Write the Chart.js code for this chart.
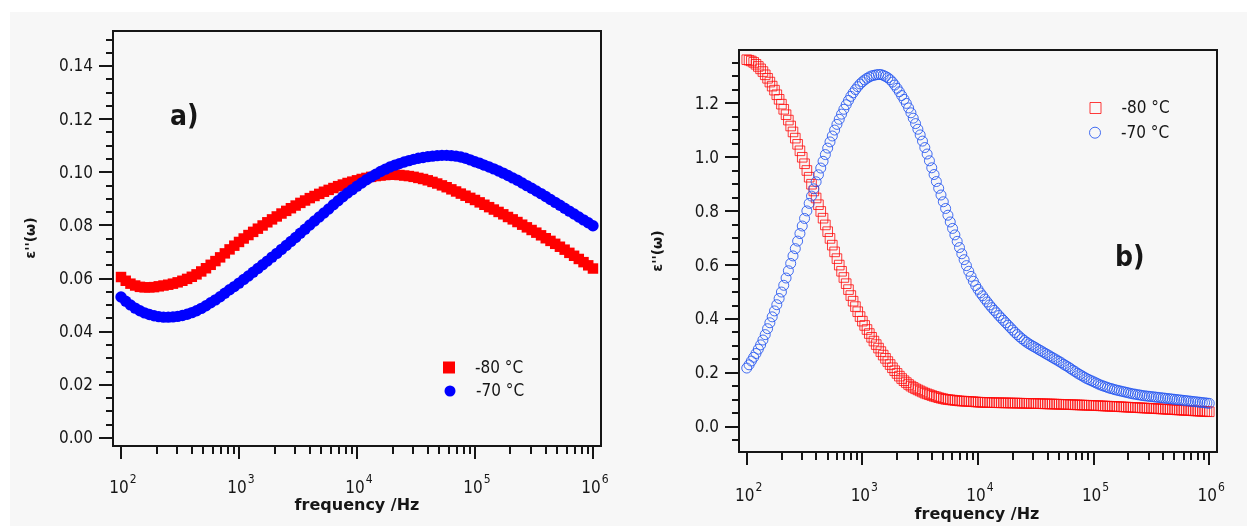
<!DOCTYPE html>
<html>
<head>
<meta charset="utf-8">
<script src="https://cdn.jsdelivr.net/npm/chart.js@4.4.0/dist/chart.umd.min.js"></script>
<style>
  html, body { margin: 0; padding: 0; background: #fff; }
  #wrap { position: relative; width: 1247px; height: 526px; overflow: hidden; }
  #bg { position: absolute; left: 10px; top: 12px; right: 0; bottom: 0; background: #f7f7f7; }
  canvas { position: absolute; left: 0; top: 0; }
</style>
</head>
<body>
<div id="wrap">
  <div id="bg"></div>
  <canvas id="chartA" width="1247" height="526"></canvas>
  <canvas id="chartB" width="1247" height="526"></canvas>
</div>
<script>
// panel a) frequency grid (Hz), 25 points per decade
const frequencyA = [
  100, 109.6, 120.2, 131.8, 144.5, 158.5, 173.8, 190.5, 208.9, 229.1, 251.2, 275.4, 302, 331.1, 363.1, 398.1, 436.5, 478.6, 524.8, 575.4, 631, 691.8, 758.6, 831.8, 912,
  1000, 1096, 1202, 1318, 1445, 1585, 1738, 1905, 2089, 2291, 2512, 2754, 3020, 3311, 3631, 3981, 4365, 4786, 5248, 5754, 6310, 6918, 7586, 8318, 9120,
  10000, 10960, 12020, 13180, 14450, 15850, 17380, 19050, 20890, 22910, 25120, 27540, 30200, 33110, 36310, 39810, 43650, 47860, 52480, 57540, 63100, 69180, 75860, 83180, 91200,
  100000, 109600, 120200, 131800, 144500, 158500, 173800, 190500, 208900, 229100, 251200, 275400, 302000, 331100, 363100, 398100, 436500, 478600, 524800, 575400, 631000, 691800, 758600, 831800, 912000,
  1000000
];

// panel b) frequency grid, 50 points per decade
const mantissaB = [
  1.000, 1.047, 1.096, 1.148, 1.202, 1.259, 1.318, 1.380, 1.445, 1.514,
  1.585, 1.660, 1.738, 1.820, 1.905, 1.995, 2.089, 2.188, 2.291, 2.399,
  2.512, 2.630, 2.754, 2.884, 3.020, 3.162, 3.311, 3.467, 3.631, 3.802,
  3.981, 4.169, 4.365, 4.571, 4.786, 5.012, 5.248, 5.495, 5.754, 6.026,
  6.310, 6.607, 6.918, 7.244, 7.586, 7.943, 8.318, 8.710, 9.120, 9.550
];
const decadesB = [100, 1000, 10000, 100000];
const frequencyB = decadesB.flatMap(d => mantissaB.map(m => +(m * d).toPrecision(4))).concat([1000000]);

// panel a) eps''
const epsA80 = [
  0.0606, 0.0592, 0.0581, 0.0574, 0.0569, 0.0567, 0.0567, 0.0568, 0.0571, 0.0574,
  0.0577, 0.0581, 0.0586, 0.0592, 0.0599, 0.0607, 0.0616, 0.0627, 0.0639, 0.0652,
  0.0666, 0.0680, 0.0695, 0.0710, 0.0724, 0.0738, 0.0751, 0.0764, 0.0776, 0.0788,
  0.0800, 0.0812, 0.0823, 0.0834, 0.0845, 0.0855, 0.0865, 0.0875, 0.0885, 0.0894,
  0.0903, 0.0911, 0.0919, 0.0927, 0.0934, 0.0941, 0.0948, 0.0954, 0.0960, 0.0965,
  0.0970, 0.0975, 0.0979, 0.0983, 0.0986, 0.0988, 0.0990, 0.0991, 0.0991, 0.0990,
  0.0988, 0.0986, 0.0983, 0.0979, 0.0975, 0.0970, 0.0964, 0.0958, 0.0951, 0.0944,
  0.0936, 0.0928, 0.0920, 0.0912, 0.0904, 0.0896, 0.0887, 0.0878, 0.0869, 0.0860,
  0.0851, 0.0842, 0.0832, 0.0823, 0.0813, 0.0803, 0.0793, 0.0783, 0.0773, 0.0763,
  0.0752, 0.0742, 0.0731, 0.0720, 0.0709, 0.0697, 0.0686, 0.0674, 0.0662, 0.0650,
  0.0638
];
const epsA70 = [
  0.0531, 0.0515, 0.0501, 0.0489, 0.0479, 0.0471, 0.0465, 0.0460, 0.0457, 0.0455,
  0.0455, 0.0456, 0.0458, 0.0461, 0.0466, 0.0472, 0.0479, 0.0488, 0.0498, 0.0509,
  0.0520, 0.0532, 0.0545, 0.0558, 0.0570, 0.0583, 0.0597, 0.0610, 0.0624, 0.0638,
  0.0652, 0.0666, 0.0681, 0.0695, 0.0710, 0.0725, 0.0740, 0.0755, 0.0771, 0.0786,
  0.0802, 0.0817, 0.0832, 0.0847, 0.0862, 0.0878, 0.0893, 0.0908, 0.0922, 0.0935,
  0.0948, 0.0960, 0.0972, 0.0983, 0.0993, 0.1003, 0.1012, 0.1020, 0.1027, 0.1033,
  0.1039, 0.1044, 0.1049, 0.1053, 0.1056, 0.1059, 0.1061, 0.1063, 0.1064, 0.1064,
  0.1063, 0.1061, 0.1058, 0.1053, 0.1047, 0.1040, 0.1034, 0.1027, 0.1020, 0.1013,
  0.1005, 0.0997, 0.0988, 0.0979, 0.0970, 0.0960, 0.0950, 0.0940, 0.0930, 0.0920,
  0.0909, 0.0898, 0.0887, 0.0876, 0.0865, 0.0854, 0.0843, 0.0832, 0.0821, 0.0810,
  0.0799
];

// panel b) eps''
const epsB80 = [
  1.362, 1.360, 1.357, 1.352, 1.345, 1.337, 1.328, 1.318, 1.306, 1.293,
  1.279, 1.264, 1.249, 1.232, 1.215, 1.197, 1.178, 1.158, 1.138, 1.116,
  1.094, 1.071, 1.048, 1.024, 1.000, 0.976, 0.951, 0.926, 0.900, 0.875,
  0.849, 0.824, 0.799, 0.774, 0.749, 0.724, 0.699, 0.674, 0.649, 0.624,
  0.600, 0.577, 0.554, 0.531, 0.509, 0.487, 0.466, 0.446, 0.427, 0.409,
  0.392, 0.376, 0.361, 0.346, 0.332, 0.318, 0.305, 0.292, 0.279, 0.266,
  0.254, 0.242, 0.231, 0.219, 0.208, 0.198, 0.188, 0.179, 0.171, 0.164,
  0.157, 0.151, 0.146, 0.141, 0.137, 0.133, 0.129, 0.125, 0.122, 0.119,
  0.116, 0.113, 0.111, 0.108, 0.106, 0.104, 0.102, 0.101, 0.100, 0.099,
  0.098, 0.097, 0.096, 0.0955, 0.095, 0.0945, 0.094, 0.0935, 0.093, 0.0922,
  0.0915, 0.0911, 0.0908, 0.0905, 0.0902, 0.0899, 0.0897, 0.0895, 0.0893, 0.0891,
  0.0890, 0.0888, 0.0887, 0.0885, 0.0883, 0.0881, 0.0880, 0.0878, 0.0876, 0.0874,
  0.0872, 0.0870, 0.0868, 0.0866, 0.0864, 0.0862, 0.0860, 0.0857, 0.0855, 0.0852,
  0.0850, 0.0847, 0.0845, 0.0842, 0.0840, 0.0837, 0.0834, 0.0831, 0.0828, 0.0825,
  0.0822, 0.0819, 0.0816, 0.0813, 0.0810, 0.0806, 0.0803, 0.0800, 0.0797, 0.0793,
  0.0790, 0.0786, 0.0782, 0.0778, 0.0774, 0.0770, 0.0766, 0.0762, 0.0758, 0.0754,
  0.0750, 0.0745, 0.0741, 0.0736, 0.0732, 0.0727, 0.0723, 0.0718, 0.0714, 0.0709,
  0.0705, 0.0700, 0.0696, 0.0691, 0.0687, 0.0682, 0.0678, 0.0673, 0.0668, 0.0663,
  0.0658, 0.0653, 0.0648, 0.0643, 0.0638, 0.0633, 0.0628, 0.0623, 0.0618, 0.0613,
  0.0608, 0.0603, 0.0598, 0.0593, 0.0588, 0.0583, 0.0578, 0.0573, 0.0568, 0.0563,
  0.0558
];
const epsB70 = [
  0.218, 0.230, 0.244, 0.258, 0.272, 0.288, 0.304, 0.322, 0.342, 0.364,
  0.386, 0.408, 0.430, 0.453, 0.476, 0.500, 0.525, 0.552, 0.579, 0.606,
  0.634, 0.661, 0.689, 0.717, 0.745, 0.773, 0.801, 0.829, 0.856, 0.883,
  0.909, 0.935, 0.960, 0.985, 1.010, 1.034, 1.057, 1.079, 1.101, 1.122,
  1.141, 1.160, 1.178, 1.195, 1.211, 1.226, 1.239, 1.251, 1.262, 1.272,
  1.280, 1.287, 1.293, 1.298, 1.302, 1.304, 1.306, 1.307, 1.307, 1.304,
  1.300, 1.295, 1.288, 1.279, 1.268, 1.256, 1.243, 1.229, 1.215, 1.200,
  1.183, 1.165, 1.145, 1.125, 1.104, 1.083, 1.060, 1.036, 1.012, 0.987,
  0.961, 0.936, 0.910, 0.885, 0.860, 0.835, 0.810, 0.785, 0.760, 0.736,
  0.712, 0.688, 0.665, 0.642, 0.620, 0.598, 0.577, 0.558, 0.540, 0.524,
  0.510, 0.497, 0.486, 0.474, 0.463, 0.452, 0.442, 0.432, 0.423, 0.413,
  0.404, 0.395, 0.386, 0.377, 0.368, 0.359, 0.350, 0.342, 0.334, 0.327,
  0.320, 0.314, 0.308, 0.303, 0.298, 0.293, 0.288, 0.283, 0.278, 0.273,
  0.268, 0.263, 0.258, 0.253, 0.248, 0.243, 0.238, 0.232, 0.227, 0.222,
  0.216, 0.210, 0.205, 0.199, 0.194, 0.189, 0.184, 0.179, 0.175, 0.171,
  0.167, 0.163, 0.159, 0.155, 0.152, 0.149, 0.146, 0.143, 0.141, 0.138,
  0.136, 0.134, 0.132, 0.130, 0.128, 0.126, 0.124, 0.122, 0.121, 0.119,
  0.118, 0.116, 0.115, 0.114, 0.113, 0.112, 0.111, 0.110, 0.109, 0.108,
  0.107, 0.106, 0.105, 0.104, 0.103, 0.102, 0.101, 0.100, 0.099, 0.098,
  0.097, 0.096, 0.095, 0.094, 0.093, 0.092, 0.091, 0.090, 0.089, 0.088,
  0.087
];

const seriesLabels = ['-80 °C', '-70 °C'];
const xTickExponents = [2, 3, 4, 5, 6];
const yTicksA = [0, 0.02, 0.04, 0.06, 0.08, 0.10, 0.12, 0.14];
const yTicksB = [0, 0.2, 0.4, 0.6, 0.8, 1.0, 1.2];

const TICK_FONT = '17px "DejaVu Sans Condensed", "DejaVu Sans", sans-serif';
const SUP_FONT = '12px "DejaVu Sans Condensed", "DejaVu Sans", sans-serif';
const TITLE_FONT = 'bold 16px "DejaVu Sans", sans-serif';
const YTITLE_FONT = 'bold 14px "DejaVu Sans", sans-serif';
const TAG_FONT = 'bold 28px "DejaVu Sans Condensed", "DejaVu Sans", sans-serif';
const INK = '#161616';

function panelDecor(p) {
  return {
    id: 'decor',
    afterDraw(chart) {
      const { ctx, chartArea: a, scales: { x, y } } = chart;
      ctx.save();
      ctx.strokeStyle = INK;
      ctx.fillStyle = INK;
      ctx.lineWidth = 2;
      ctx.strokeRect(a.left, a.top, a.right - a.left, a.bottom - a.top);

      // y ticks, minor every quarter of a major step
      ctx.beginPath();
      const step = p.yTicks[1] / 4;
      for (let i = p.yMinorFrom; i <= p.yMinorTo; i++) {
        const py = Math.round(y.getPixelForValue(i * step));
        ctx.moveTo(a.left, py);
        ctx.lineTo(a.left - (i % 4 === 0 ? 14 : 7), py);
      }
      // log x ticks
      xTickExponents.forEach(e => {
        const tops = e === 6 ? [1] : [1, 2, 3, 4, 5, 6, 7, 8, 9];
        tops.forEach(m => {
          const px = Math.round(x.getPixelForValue(m * Math.pow(10, e)));
          ctx.moveTo(px, a.bottom);
          ctx.lineTo(px, a.bottom + (m === 1 ? 13 : 8));
        });
      });
      ctx.stroke();

      // y tick labels
      ctx.font = TICK_FONT;
      ctx.textAlign = 'right';
      ctx.textBaseline = 'middle';
      p.yTicks.forEach(v => {
        ctx.fillText(v.toFixed(p.digits), a.left - 20, y.getPixelForValue(v) + 1);
      });

      // x tick labels 10^n
      xTickExponents.forEach(e => {
        const px = x.getPixelForValue(Math.pow(10, e)) - 2;
        ctx.font = TICK_FONT;
        ctx.textAlign = 'center';
        const w = ctx.measureText('10').width;
        ctx.fillText('10', px, p.xLabelY);
        ctx.font = SUP_FONT;
        ctx.textAlign = 'left';
        ctx.fillText(String(e), px + w / 2 + 1, p.xLabelY - 9);
      });

      // axis titles
      ctx.font = TITLE_FONT;
      ctx.textAlign = 'center';
      ctx.fillText('frequency /Hz', p.xTitle[0], p.xTitle[1]);
      ctx.save();
      ctx.translate(p.yTitle[0], p.yTitle[1]);
      ctx.rotate(-Math.PI / 2);
      ctx.font = YTITLE_FONT;
      ctx.fillText("\u03b5''(\u03c9)", 0, 0);
      ctx.restore();

      // panel tag
      ctx.font = TAG_FONT;
      ctx.textAlign = 'left';
      ctx.textBaseline = 'alphabetic';
      ctx.fillText(p.tag, p.tagPos[0], p.tagPos[1]);

      // legend
      ctx.textBaseline = 'middle';
      ctx.font = TICK_FONT;
      p.legend.forEach((pos, i) => {
        const ds = chart.data.datasets[i];
        ctx.beginPath();
        if (i === 0) {
          const s = p.legendSize[0];
          ctx.rect(pos[0] - s / 2, pos[1] - s / 2, s, s);
        } else {
          ctx.arc(pos[0], pos[1], p.legendSize[1] / 2, 0, Math.PI * 2);
        }
        if (p.open) {
          ctx.lineWidth = 1;
          ctx.strokeStyle = ds.borderColor;
          ctx.stroke();
        } else {
          ctx.fillStyle = ds.backgroundColor;
          ctx.fill();
        }
        ctx.fillStyle = INK;
        ctx.fillText(seriesLabels[i], pos[0] + 26, pos[1] + 1);
      });
      ctx.restore();
    }
  };
}

function makePanel(id, p) {
  const pts = s => p.freq.map((f, i) => ({ x: f, y: s[i] }));
  new Chart(document.getElementById(id), {
    type: 'scatter',
    data: {
      datasets: [
        {
          label: seriesLabels[0], data: pts(p.series[0]), order: 2,
          pointStyle: 'rect', pointRadius: p.rectRadius,
          backgroundColor: p.open ? 'rgba(0,0,0,0)' : p.colors[0],
          borderColor: p.colors[0], borderWidth: p.open ? 1 : 0
        },
        {
          label: seriesLabels[1], data: pts(p.series[1]), order: 1,
          pointStyle: 'circle', pointRadius: p.circleRadius,
          backgroundColor: p.open ? 'rgba(0,0,0,0)' : p.colors[1],
          borderColor: p.colors[1], borderWidth: p.open ? 1 : 0
        }
      ]
    },
    options: {
      responsive: false,
      animation: false,
      events: [],
      layout: { padding: p.padding },
      plugins: { legend: { display: false }, tooltip: { enabled: false } },
      scales: {
        x: { type: 'logarithmic', min: p.xRange[0], max: p.xRange[1], display: false },
        y: { type: 'linear', min: p.yRange[0], max: p.yRange[1], display: false }
      }
    },
    plugins: [panelDecor(p)]
  });
}

makePanel('chartA', {
  freq: frequencyA, series: [epsA80, epsA70], open: false,
  colors: ['#ff0000', '#0000ff'],
  rectRadius: 7.4, circleRadius: 5.7,
  xRange: [85.5, 1.17e6], yRange: [-0.003, 0.1532],
  yTicks: yTicksA, digits: 2, yMinorFrom: 0, yMinorTo: 30,
  padding: { left: 113, top: 31, right: 646, bottom: 80 },
  xLabelY: 489, xTitle: [357, 506], yTitle: [31, 238],
  tag: 'a)', tagPos: [170, 125],
  legend: [[449, 367.5], [450, 391]], legendSize: [12, 11]
});

makePanel('chartB', {
  freq: frequencyB, series: [epsB80, epsB70], open: true,
  colors: ['rgba(255,10,10,0.8)', 'rgba(35,85,240,0.85)'],
  rectRadius: 6.8, circleRadius: 5,
  xRange: [85.7, 1.167e6], yRange: [-0.0935, 1.398],
  yTicks: yTicksB, digits: 1, yMinorFrom: -1, yMinorTo: 27,
  padding: { left: 739, top: 50, right: 30, bottom: 74 },
  xLabelY: 497, xTitle: [977, 515], yTitle: [658, 251],
  tag: 'b)', tagPos: [1115, 266],
  legend: [[1095.5, 108], [1095, 132.7]], legendSize: [11, 11]
});
</script>
</body>
</html>
